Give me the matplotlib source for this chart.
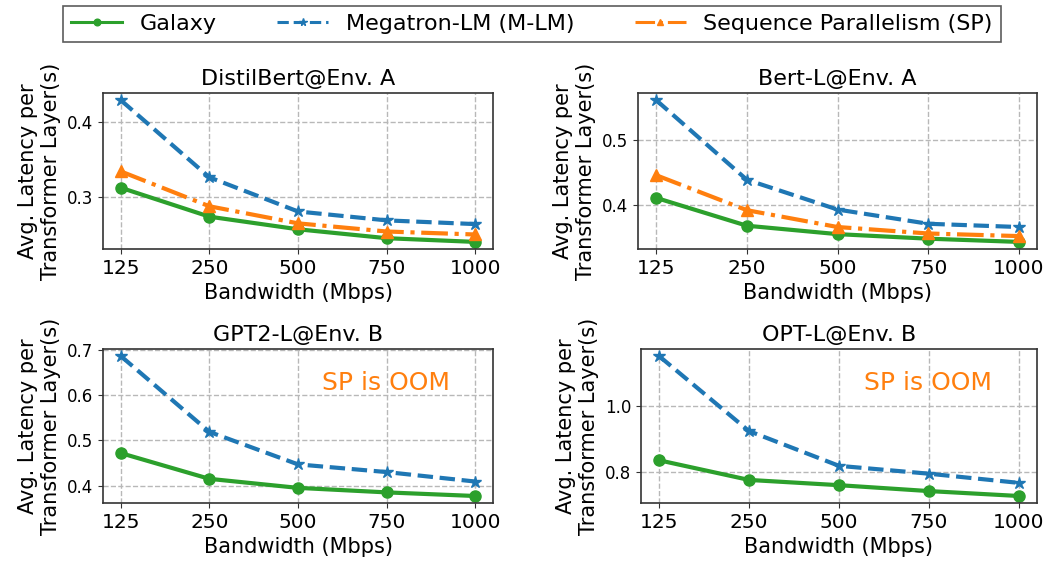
import matplotlib
matplotlib.use("Agg")
import matplotlib.pyplot as plt

bandwidth = ["125", "250", "500", "750", "1000"]
titles = ["DistilBert@Env. A", "Bert-L@Env. A", "GPT2-L@Env. B", "OPT-L@Env. B"]

galaxy = [
    [0.312, 0.273, 0.256, 0.244, 0.239],
    [0.411, 0.368, 0.355, 0.348, 0.343],
    [0.472, 0.415, 0.395, 0.385, 0.377],
    [0.836, 0.776, 0.760, 0.742, 0.727],
]
mlm = [
    [0.430, 0.326, 0.280, 0.268, 0.263],
    [0.562, 0.439, 0.393, 0.371, 0.366],
    [0.687, 0.519, 0.447, 0.430, 0.409],
    [1.154, 0.925, 0.819, 0.795, 0.767],
]
sp = [
    [0.334, 0.287, 0.264, 0.253, 0.249],
    [0.446, 0.392, 0.366, 0.356, 0.352],
    None,
    None,
]

W, H = 1046, 564
fig = plt.figure(figsize=(W / 100, H / 100), dpi=100)

boxes = [
    (103, 93, 493, 249),
    (638, 93, 1037, 249),
    (103, 349, 493, 503),
    (641, 349, 1037, 503),
]

handles = None
for i, (x0, y0, x1, y1) in enumerate(boxes):
    ax = fig.add_axes([x0 / W, 1 - y1 / H, (x1 - x0) / W, (y1 - y0) / H])
    x = list(range(len(bandwidth)))
    h1, = ax.plot(x, galaxy[i], color="tab:green", linestyle="-", marker="o",
                  lw=3, ms=8, label="Galaxy")
    h2, = ax.plot(x, mlm[i], color="tab:blue", linestyle="--", marker="*",
                  lw=3, ms=9, label="Megatron-LM (M-LM)")
    if sp[i] is not None:
        h3, = ax.plot(x, sp[i], color="tab:orange", linestyle="-.", marker="^",
                      lw=3, ms=8, label="Sequence Parallelism (SP)")
        if handles is None:
            handles = [h1, h2, h3]
    else:
        ax.text(0.725, 0.78, "SP is OOM", transform=ax.transAxes, color="tab:orange",
                fontsize=18, ha="center", va="center")
    ax.set_xticks(x)
    ax.set_xticklabels(bandwidth, fontsize=14.5)
    ax.tick_params(axis="y", labelsize=12)
    ax.tick_params(color="#333333")
    for s in ax.spines.values():
        s.set_color("#333333")
        s.set_linewidth(1.2)
    ax.set_title(titles[i], fontsize=16)
    ax.set_xlabel("Bandwidth (Mbps)", fontsize=15)
    ax.set_ylabel("Avg. Latency per\nTransformer Layer(s)", fontsize=15)
    ax.grid(True, linestyle="--", color="#b8b8b8", lw=1)
    ax.set_axisbelow(True)

leg = fig.legend(handles=handles, loc="upper center", bbox_to_anchor=(532 / W, 1 - 6 / H),
                 ncol=3, fontsize=16, frameon=True, fancybox=False, edgecolor="#333333",
                 handlelength=2.3, columnspacing=2.7, handletextpad=0.8,
                 markerscale=0.6, borderpad=0.35, borderaxespad=0)
for ln in leg.get_lines():
    ln.set_linewidth(2.2)
leg.get_frame().set_linewidth(1.2)

fig.savefig("out.png", dpi=100)
